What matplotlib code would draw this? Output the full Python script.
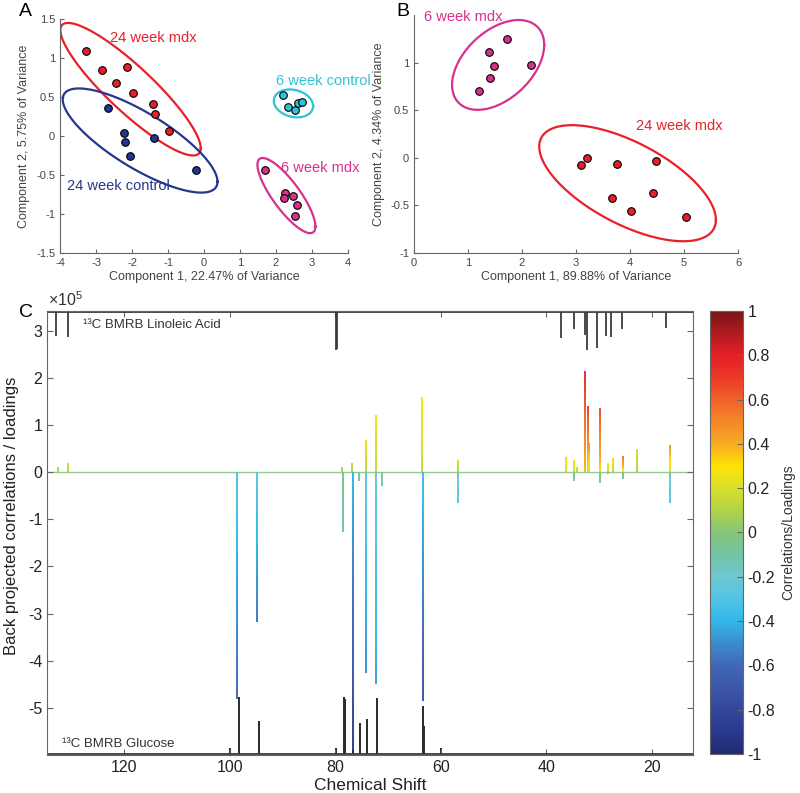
import numpy as np
import matplotlib
matplotlib.use("Agg")
import matplotlib.pyplot as plt
from matplotlib.collections import LineCollection
from matplotlib.colors import LinearSegmentedColormap, Normalize
from matplotlib.cm import ScalarMappable

plt.rcParams['font.family'] = ['Liberation Sans', 'DejaVu Sans']
plt.rcParams['axes.unicode_minus'] = False
plt.rcParams['mathtext.fontset'] = 'custom'
plt.rcParams['mathtext.rm'] = 'Liberation Sans'

# ---- panel A: PCA scores, all four groups
a_mdx24_x = [-3.28, -2.83, -2.14, -2.45, -1.96, -1.42, -1.35, -0.96]
a_mdx24_y = [1.09, 0.85, 0.89, 0.68, 0.55, 0.41, 0.28, 0.07]
a_ctl24_x = [-2.67, -2.21, -2.19, -2.06, -1.40, -0.22]
a_ctl24_y = [0.36, 0.04, -0.08, -0.26, -0.02, -0.43]
a_ctl6_x = [2.20, 2.32, 2.52, 2.60, 2.73]
a_ctl6_y = [0.53, 0.37, 0.33, 0.42, 0.44]
a_mdx6_x = [1.70, 2.25, 2.21, 2.47, 2.58, 2.53]
a_mdx6_y = [-0.43, -0.73, -0.79, -0.77, -0.89, -1.02]

# ellipses: centre x, centre y, x half range, y half range, cos(phase)
a_ell_mdx24 = (-2.04, 0.60, 1.95, 0.85, -0.89)
a_ell_ctl24 = (-1.775, -0.058, 2.15, 0.668, -0.79)
a_ell_ctl6 = (2.485, 0.418, 0.546, 0.179, -0.19)
a_ell_mdx6 = (2.29, -0.764, 0.805, 0.482, -0.82)

# ---- panel B: mdx only
b_mdx6_x = [1.72, 1.39, 1.48, 2.16, 1.40, 1.21]
b_mdx6_y = [1.25, 1.11, 0.96, 0.98, 0.84, 0.70]
b_mdx24_x = [3.21, 3.10, 3.75, 4.48, 3.66, 4.43, 4.01, 5.03]
b_mdx24_y = [0.00, -0.08, -0.07, -0.03, -0.42, -0.37, -0.56, -0.62]
b_ell_mdx6 = (1.558, 0.976, 0.853, 0.472, 0.445)
b_ell_mdx24 = (3.955, -0.267, 1.636, 0.610, -0.63)

# ---- panel C: spectra (intensities in 1e5)
lino_ppm = [132.9, 130.7, 79.9, 79.7, 37.2, 34.7, 32.6, 32.2, 30.3, 28.75, 27.8, 25.7, 17.25]
lino_tip = [2.88, 2.87, 2.60, 2.62, 2.84, 3.03, 2.90, 2.60, 2.64, 2.88, 2.87, 3.04, 3.06]
lino_base = 3.40

gluc_ppm = [99.9, 98.2, 94.35, 79.9, 78.4, 78.2, 76.6, 75.25, 73.9, 72.0, 63.3, 63.15, 59.85]
gluc_tip = [-5.86, -4.78, -5.29, -5.86, -4.77, -4.82, -4.77, -5.32, -5.24, -4.80, -4.97, -5.39, -5.86]
gluc_base = -5.97

load_ppm = [132.5, 130.7, 78.7, 76.8, 74.2, 72.3, 63.6, 56.8, 36.3, 34.7, 34.2, 32.55,
            32.0, 31.8, 29.8, 28.2, 27.4, 25.4, 22.75, 16.6,
            98.6, 94.85, 78.55, 76.7, 75.45, 74.2, 72.3, 71.15, 63.3, 56.7,
            34.7, 29.8, 28.2, 25.4, 16.6]
load_tip = [0.10, 0.20, 0.10, 0.20, 0.68, 1.22, 1.60, 0.25, 0.33, 0.26, 0.10, 2.15,
            1.41, 0.62, 1.36, 0.20, 0.29, 0.34, 0.50, 0.57,
            -4.82, -3.18, -1.27, -5.90, -0.19, -4.27, -4.50, -0.30, -4.86, -0.65,
            -0.19, -0.23, -0.05, -0.14, -0.66]
load_corr = [0.15, 0.20, 0.10, 0.15, 0.25, 0.28, 0.30, 0.20, 0.35, 0.30, 0.20, 0.75,
             0.68, 0.45, 0.65, 0.30, 0.28, 0.55, 0.20, 0.45,
             -0.60, -0.55, -0.10, -0.80, -0.10, -0.50, -0.45, -0.15, -0.70, -0.30,
             -0.10, -0.10, -0.05, -0.10, -0.30]

cbar_ticks = [-1, -0.8, -0.6, -0.4, -0.2, 0, 0.2, 0.4, 0.6, 0.8, 1]

RED = '#e8202a'
NAVY = '#25368f'
CYAN = '#2ec4d4'
MAGENTA = '#d8308c'
TICK_COL = '#444444'
SPINE_COL = '#666666'

cmap = LinearSegmentedColormap.from_list('corr', [
    (0.00, '#1f2a70'), (0.05, '#2a3a8e'), (0.10, '#34479c'), (0.15, '#3c57a8'),
    (0.20, '#4068b8'), (0.25, '#3c8cce'), (0.30, '#31b8ea'), (0.35, '#52c4e4'),
    (0.40, '#6ec8d0'), (0.45, '#74c4a4'), (0.50, '#86c47a'), (0.55, '#b0d448'),
    (0.60, '#d8df2a'), (0.65, '#fde405'), (0.70, '#f7ab23'), (0.75, '#f4882a'),
    (0.80, '#f0632a'), (0.85, '#ec3a26'), (0.90, '#e41f26'), (0.95, '#b01c20'),
    (1.00, '#7a1416')])
norm = Normalize(-1, 1)


def draw_ellipse(ax, ell, color):
    cx, cy, rx, ry, cphi = ell
    t = np.linspace(0, 2 * np.pi, 300)
    phi = np.arccos(cphi)
    ax.plot(cx + rx * np.cos(t), cy + ry * np.cos(t - phi), color=color, lw=1.6)


def score_axes(ax):
    for s in ['top', 'right']:
        ax.spines[s].set_visible(False)
    for s in ['left', 'bottom']:
        ax.spines[s].set_color(SPINE_COL)
    ax.tick_params(direction='in', labelsize=8, colors=SPINE_COL,
                   labelcolor=TICK_COL, length=3)


fig = plt.figure(figsize=(8.0, 7.93), dpi=100)

# ---------------- A
ax_a = fig.add_axes([0.075, 0.681, 0.36, 0.295])
for xs, ys, col in [(a_mdx24_x, a_mdx24_y, RED), (a_ctl24_x, a_ctl24_y, NAVY),
                    (a_ctl6_x, a_ctl6_y, CYAN), (a_mdx6_x, a_mdx6_y, MAGENTA)]:
    ax_a.scatter(xs, ys, s=30, c=col, edgecolors='black', linewidths=0.8, zorder=3)
draw_ellipse(ax_a, a_ell_mdx24, RED)
draw_ellipse(ax_a, a_ell_ctl24, NAVY)
draw_ellipse(ax_a, a_ell_ctl6, CYAN)
draw_ellipse(ax_a, a_ell_mdx6, MAGENTA)
ax_a.text(-1.41, 1.26, '24 week mdx', color=RED, fontsize=10.5, ha='center', va='center')
ax_a.text(-2.38, -0.64, '24 week control', color=NAVY, fontsize=10.5, ha='center', va='center')
ax_a.text(3.31, 0.70, '6 week control', color=CYAN, fontsize=10.5, ha='center', va='center')
ax_a.text(3.22, -0.41, '6 week mdx', color=MAGENTA, fontsize=10.5, ha='center', va='center')
ax_a.set_xlim(-4, 4)
ax_a.set_ylim(-1.5, 1.5)
ax_a.set_xticks([-4, -3, -2, -1, 0, 1, 2, 3, 4])
ax_a.set_yticks([-1.5, -1, -0.5, 0, 0.5, 1, 1.5])
ax_a.set_yticklabels(['-1.5', '-1', '-0.5', '0', '0.5', '1', '1.5'])
ax_a.set_xlabel('Component 1, 22.47% of Variance', fontsize=9, color=TICK_COL, labelpad=2)
ax_a.set_ylabel('Component 2, 5.75% of Variance', fontsize=9, color=TICK_COL, labelpad=4)
score_axes(ax_a)

# ---------------- B
ax_b = fig.add_axes([0.5175, 0.681, 0.405, 0.300])
ax_b.scatter(b_mdx6_x, b_mdx6_y, s=30, c=MAGENTA, edgecolors='black', linewidths=0.8, zorder=3)
ax_b.scatter(b_mdx24_x, b_mdx24_y, s=30, c=RED, edgecolors='black', linewidths=0.8, zorder=3)
draw_ellipse(ax_b, b_ell_mdx6, MAGENTA)
draw_ellipse(ax_b, b_ell_mdx24, RED)
ax_b.text(0.91, 1.475, '6 week mdx', color=MAGENTA, fontsize=10.5, ha='center', va='center')
ax_b.text(4.91, 0.336, '24 week mdx', color=RED, fontsize=10.5, ha='center', va='center')
ax_b.set_xlim(0, 6)
ax_b.set_ylim(-1, 1.5)
ax_b.set_yticks([-1, -0.5, 0, 0.5, 1])
ax_b.set_yticklabels(['-1', '-0.5', '0', '0.5', '1'])
ax_b.set_xlabel('Component 1, 89.88% of Variance', fontsize=9, color=TICK_COL, labelpad=2)
ax_b.set_ylabel('Component 2, 4.34% of Variance', fontsize=9, color=TICK_COL, labelpad=4)
score_axes(ax_b)

# ---------------- C
ax_c = fig.add_axes([0.059, 0.048, 0.807, 0.560])
ax_c.axhline(0, color=cmap(norm(0.0)), lw=1.0, alpha=0.9, zorder=1)
for p, h, c in zip(load_ppm, load_tip, load_corr):
    hs = np.linspace(0, h, 40)
    segs = [[(p, hs[i]), (p, hs[i + 1])] for i in range(len(hs) - 1)]
    cols = cmap(norm(np.linspace(0.5 * c, c, len(segs))))
    ax_c.add_collection(LineCollection(segs, colors=cols, linewidths=1.4, zorder=2))

ax_c.axhline(lino_base, color='#3a3a3a', lw=1.3, zorder=2)
ax_c.vlines(lino_ppm, lino_base, lino_tip, color='#3a3a3a', lw=1.3, zorder=2)
ax_c.axhline(gluc_base, color='#3a3a3a', lw=1.3, zorder=2)
ax_c.vlines(gluc_ppm, gluc_base, gluc_tip, color='#2a2a2a', lw=1.4, zorder=1.5)

ax_c.text(127.8, 3.13, '¹³C BMRB Linoleic Acid', fontsize=9.5, color='#333333', va='center')
ax_c.text(131.8, -5.77, '¹³C BMRB Glucose', fontsize=9.5, color='#333333', va='center')

ax_c.set_xlim(134.6, 12.2)
ax_c.set_ylim(-6, 3.42)
ax_c.set_xticks([120, 100, 80, 60, 40, 20])
ax_c.set_yticks([-5, -4, -3, -2, -1, 0, 1, 2, 3])
ax_c.tick_params(direction='in', labelsize=11.5, top=True, right=True,
                 colors=SPINE_COL, labelcolor='#222222', length=4)
for s in ax_c.spines.values():
    s.set_color(SPINE_COL)
ax_c.set_xlabel('Chemical Shift', fontsize=12.5, color='#222222', labelpad=2)
ax_c.set_ylabel('Back projected correlations / loadings', fontsize=12, color='#222222')
ax_c.yaxis.set_label_coords(-0.044, 0.538)

# colorbar
cax = fig.add_axes([0.8875, 0.049, 0.041, 0.559])
cb = fig.colorbar(ScalarMappable(norm=norm, cmap=cmap), cax=cax, ticks=cbar_ticks)
cb.set_ticklabels(['%g' % v for v in cbar_ticks])
cb.outline.set_edgecolor(SPINE_COL)
cax.tick_params(direction='in', labelsize=11.5, length=4, colors=SPINE_COL, labelcolor='#222222')
cb.set_label('Correlations/Loadings', fontsize=10, color='#333333', labelpad=4)

# panel letters and exponent
fig.text(0.024, 0.985, 'A', fontsize=14, va='center')
fig.text(0.495, 0.985, 'B', fontsize=14, va='center')
fig.text(0.024, 0.606, 'C', fontsize=14, va='center')
fig.text(0.06, 0.622, r'$\times10^5$', fontsize=11.5, color='#333333', va='center')

fig.savefig('out.png', dpi=100)
